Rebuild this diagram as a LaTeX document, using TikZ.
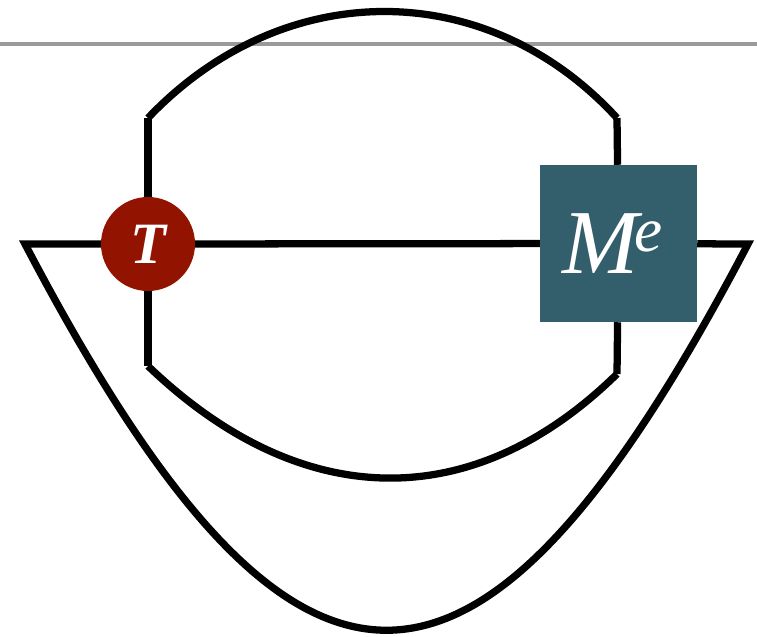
\documentclass[tikz,border=0pt]{standalone}
\usepackage{fontspec}
\setmainfont{Liberation Serif}
\usepackage{xcolor}
\usepackage{tikz}
\usetikzlibrary{positioning,calc}
\definecolor{tred}{HTML}{921400}
\definecolor{meteal}{HTML}{335E6B}
\definecolor{rulegray}{HTML}{9A9A9A}

\begin{document}
\begin{tikzpicture}[
  x=0.03cm,y=-0.03cm,
  wire/.style={line width=6.2pt,line join=miter},
  tnode/.style={circle,fill=tred,text=white,minimum size=2.82cm,inner sep=0pt,font=\fontsize{50}{50}\selectfont\bfseries\itshape},
  mbox/.style={rectangle,fill=meteal,text=white,minimum size=4.71cm,inner sep=0pt,font=\fontsize{78}{78}\selectfont\itshape}
]
\useasboundingbox (0,0) rectangle (757,636);
\draw[rulegray,line width=3pt] (0,44) -- (757,44);

\node[tnode] (T) at (148,244) {T};
\node[mbox] (Me) at (618.5,243.5) {M\kern-3pt\raisebox{19pt}{\fontsize{54}{54}\selectfont e}\kern10pt};

\coordinate (tl) at (148,118);
\coordinate (tr) at (617,118);
\coordinate (bl) at (148,366);
\coordinate (br) at (617,374);
\coordinate (ol) at (25,244);
\coordinate (or) at (748,244);

\draw[wire] (T) -- (tl);
\draw[wire] (T) -- (bl);
\draw[wire] (Me) -- (tr);
\draw[wire] (Me) -- (br);
\draw[wire] (T) -- (Me);
\draw[wire] (tl) .. controls (283,-24) and (487,-24) .. (tr);
\draw[wire] (bl) .. controls (298,510) and (470,518) .. (br);
\draw[wire] (T) -- (ol) .. controls (295,759) and (478,759) .. (or) -- (Me);
\end{tikzpicture}
\end{document}
